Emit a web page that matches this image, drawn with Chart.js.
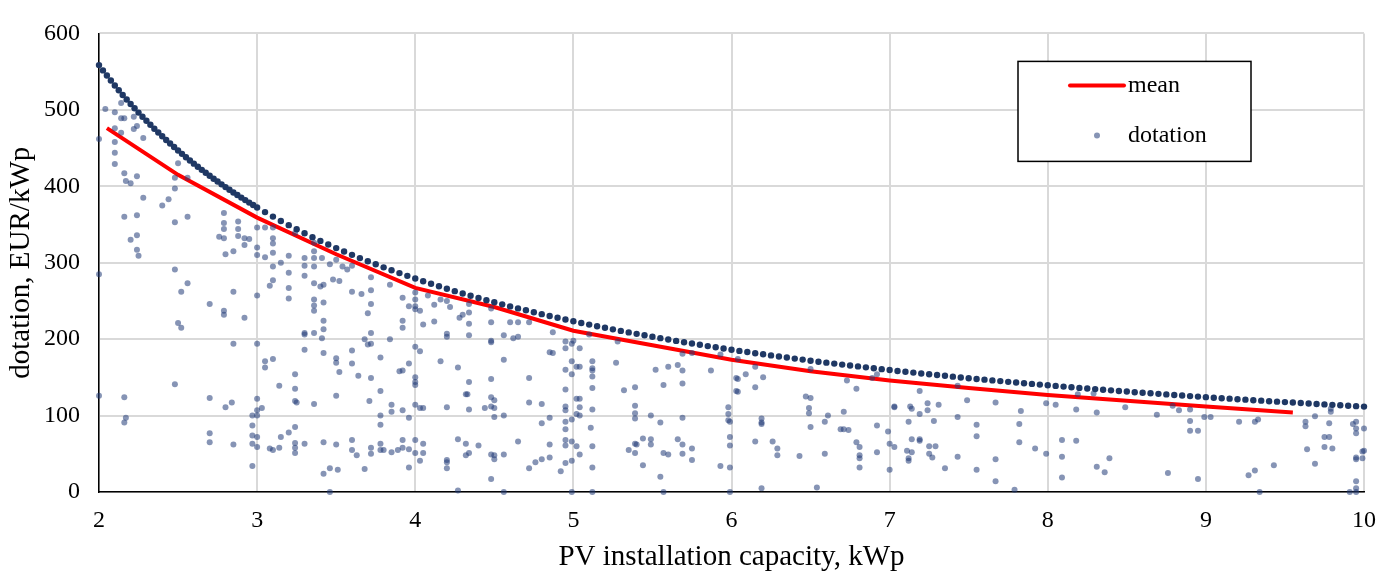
<!DOCTYPE html>
<html>
<head>
<meta charset="utf-8">
<script src="https://cdn.jsdelivr.net/npm/chart.js@4.4.1/dist/chart.umd.min.js"></script>
<style>
  html, body { margin: 0; padding: 0; background: #fff; }
</style>
</head>
<body>
<canvas id="chart" width="1390" height="571"></canvas>
<script>
'use strict';

// Mean dotation line (kWp -> EUR/kWp).
const meanKwp = [2.05, 2.5, 3.0, 3.5, 4.0, 4.5, 5.0, 5.5, 6.0, 6.5, 7.0, 7.5, 8.0, 8.5, 9.0, 9.55];
const meanEur = [476, 415, 359, 311, 267, 242, 211, 192, 173, 158, 146, 136, 127, 119.5, 112, 104];

// Upper edge of the dotation cloud (the maximum dotation per kWp).
const ceiling = [
  [2.00,558.5],[2.025,551.6],[2.05,544.9],[2.075,538.3],[2.10,531.9],[2.125,525.6],[2.15,519.5],[2.175,513.6],
  [2.20,507.7],[2.225,502.0],[2.25,496.4],[2.275,491.0],[2.30,485.7],[2.325,480.4],[2.35,475.3],[2.375,470.3],
  [2.40,465.4],[2.425,460.6],[2.45,455.9],[2.475,451.3],[2.50,446.8],[2.525,442.4],[2.55,438.0],[2.575,433.8],
  [2.60,429.6],[2.625,425.5],[2.65,421.5],[2.675,417.6],[2.70,413.7],[2.725,409.9],[2.75,406.2],[2.775,402.5],
  [2.80,398.9],[2.825,395.4],[2.85,391.9],[2.875,388.5],[2.90,385.2],[2.925,381.9],[2.95,378.6],[2.975,375.5],
  [3.00,372.3],[3.05,366.2],[3.10,360.3],[3.15,354.6],[3.20,349.1],[3.25,343.7],[3.30,338.5],[3.35,333.4],
  [3.40,328.5],[3.45,323.8],[3.50,319.1],[3.55,314.6],[3.60,310.3],[3.65,306.0],[3.70,301.9],[3.75,297.9],
  [3.80,293.9],[3.85,290.1],[3.90,286.4],[3.95,282.8],[4.00,279.3],[4.05,275.8],[4.10,272.4],[4.15,269.2],
  [4.20,266.0],[4.25,262.8],[4.30,259.8],[4.35,256.8],[4.40,253.9],[4.45,251.0],[4.50,248.2],[4.55,245.5],
  [4.60,242.8],[4.65,240.2],[4.70,237.7],[4.75,235.2],[4.80,232.7],[4.85,230.3],[4.90,228.0],[4.95,225.7],
  [5.00,223.4],[5.05,221.2],[5.10,219.0],[5.15,216.9],[5.20,214.8],[5.25,212.8],[5.30,210.8],[5.35,208.8],
  [5.40,206.9],[5.45,205.0],[5.50,203.1],[5.55,201.3],[5.60,199.5],[5.65,197.7],[5.70,196.0],[5.75,194.3],
  [5.80,192.6],[5.85,190.9],[5.90,189.3],[5.95,187.7],[6.00,186.2],[6.05,184.6],[6.10,183.1],[6.15,181.6],
  [6.20,180.2],[6.25,178.7],[6.30,177.3],[6.35,175.9],[6.40,174.5],[6.45,173.2],[6.50,171.8],[6.55,170.5],
  [6.60,169.2],[6.65,168.0],[6.70,166.7],[6.75,165.5],[6.80,164.3],[6.85,163.1],[6.90,161.9],[6.95,160.7],
  [7.00,159.6],[7.05,158.4],[7.10,157.3],[7.15,156.2],[7.20,155.1],[7.25,154.1],[7.30,153.0],[7.35,152.0],
  [7.40,150.9],[7.45,149.9],[7.50,148.9],[7.55,147.9],[7.60,147.0],[7.65,146.0],[7.70,145.1],[7.75,144.1],
  [7.80,143.2],[7.85,142.3],[7.90,141.4],[7.95,140.5],[8.00,139.6],[8.05,138.8],[8.10,137.9],[8.15,137.1],
  [8.20,136.2],[8.25,135.4],[8.30,134.6],[8.35,133.8],[8.40,133.0],[8.45,132.2],[8.50,131.4],[8.55,130.6],
  [8.60,129.9],[8.65,129.1],[8.70,128.4],[8.75,127.7],[8.80,126.9],[8.85,126.2],[8.90,125.5],[8.95,124.8],
  [9.00,124.1],[9.05,123.4],[9.10,122.7],[9.15,122.1],[9.20,121.4],[9.25,120.8],[9.30,120.1],[9.35,119.5],
  [9.40,118.8],[9.45,118.2],[9.50,117.6],[9.55,117.0],[9.60,116.4],[9.65,115.8],[9.70,115.2],[9.75,114.6],
  [9.80,114.0],[9.85,113.4],[9.90,112.8],[9.95,112.3],[10.00,111.7]
];

// Individual installations below the ceiling, grouped by capacity band.
const scatter2to3 = [
  [2.0,462],[2.0,285],[2.0,126],[2.04,501],[2.1,497],[2.1,476],[2.1,458],[2.1,444],[2.1,429],[2.14,509],
  [2.14,489],[2.14,470],[2.16,489],[2.16,417],[2.17,407],[2.2,404],[2.16,360],[2.24,413],[2.24,362],[2.2,330],
  [2.24,336],[2.24,317],[2.25,309],[2.28,463],[2.22,491],[2.22,475],[2.24,479],[2.28,385],[2.4,375],[2.44,383],
  [2.48,411],[2.48,397],[2.5,430],[2.48,353],[2.56,360],[2.56,411],[2.48,291],[2.56,273],[2.52,262],[2.5,221],
  [2.52,215],[2.48,141],[2.16,124],[2.17,97],[2.16,91],[2.7,246],[2.7,123],[2.7,77],[2.7,65],[2.79,365],
  [2.79,352],[2.79,344],[2.76,334],[2.79,332],[2.88,354],[2.88,344],[2.88,335],[2.92,332],[2.95,331],[2.92,323],
  [2.85,315],[2.8,311],[2.85,262],[2.79,237],[2.79,232],[2.92,228],[2.85,194],[2.8,111],[2.84,117],[2.85,62],
  [2.97,100],[2.97,87],[2.97,74],[2.97,63],[2.97,34]
];
const scatter3to4 = [
  [3.0,346],[3.0,320],[3.0,310],[3.0,257],[3.0,194],[3.0,122],[3.0,107],[3.0,100],[3.0,72],[3.0,59],
  [3.03,110],[3.05,346],[3.05,307],[3.05,171],[3.05,163],[3.1,346],[3.1,332],[3.1,325],[3.1,313],[3.1,295],
  [3.1,277],[3.08,270],[3.1,174],[3.08,57],[3.1,55],[3.14,139],[3.14,58],[3.15,72],[3.15,300],[3.2,309],
  [3.2,287],[3.2,267],[3.2,253],[3.2,78],[3.24,339],[3.24,154],[3.24,135],[3.24,119],[3.25,117],[3.24,85],
  [3.24,64],[3.24,58],[3.24,51],[3.3,306],[3.3,296],[3.3,283],[3.3,208],[3.3,206],[3.3,186],[3.3,63],
  [3.36,326],[3.36,315],[3.36,306],[3.36,295],[3.36,273],[3.36,252],[3.36,244],[3.36,237],[3.36,208],[3.36,115],
  [3.4,269],[3.42,271],[3.42,248],[3.42,224],[3.42,213],[3.41,201],[3.42,182],[3.42,65],[3.42,24],[3.46,31],
  [3.46,0],[3.51,29],[3.41,306],[3.46,298],[3.5,304],[3.54,295],[3.48,278],[3.52,276],[3.5,126],[3.5,62],
  [3.5,175],[3.5,169],[3.52,157],[3.57,291],[3.6,296],[3.6,185],[3.6,168],[3.6,68],[3.6,55],[3.6,262],
  [3.63,48],[3.66,259],[3.64,152],[3.68,200],[3.68,30],[3.7,234],[3.7,193],[3.72,194],[3.72,208],[3.72,246],
  [3.72,264],[3.72,281],[3.72,149],[3.71,119],[3.72,58],[3.72,50],[3.78,176],[3.78,132],[3.78,100],[3.78,88],
  [3.78,63],[3.78,55],[3.8,55],[3.84,271],[3.84,200],[3.85,114],[3.85,105],[3.85,52],[3.89,55],[3.9,158],
  [3.92,159],[3.92,224],[3.92,215],[3.92,254],[3.92,107],[3.92,68],[3.92,58],[3.96,32],[3.96,56],[3.96,168],
  [3.96,97],[3.96,243]
];
const scatter4to5 = [
  [4.0,261],[4.0,252],[4.0,243],[4.0,239],[4.0,190],[4.0,150],[4.0,144],[4.0,140],[4.0,114],[4.0,68],
  [4.0,51],[4.03,237],[4.05,219],[4.03,184],[4.05,110],[4.03,110],[4.05,63],[4.05,51],[4.03,41],[4.08,257],
  [4.12,245],[4.12,223],[4.16,171],[4.16,252],[4.2,250],[4.2,207],[4.2,203],[4.2,111],[4.2,42],[4.2,39],
  [4.2,31],[4.22,242],[4.27,163],[4.27,69],[4.27,2],[4.28,228],[4.3,232],[4.32,128],[4.33,128],[4.32,63],
  [4.32,48],[4.34,51],[4.34,108],[4.34,144],[4.34,205],[4.34,220],[4.34,235],[4.34,246],[4.4,61],[4.44,110],
  [4.48,240],[4.48,222],[4.48,198],[4.48,196],[4.48,148],[4.48,124],[4.48,112],[4.48,49],[4.48,17],[4.5,120],
  [4.5,110],[4.5,98],[4.5,48],[4.5,43],[4.56,205],[4.56,173],[4.56,100],[4.56,49],[4.56,0],[4.6,222],
  [4.62,201],[4.65,203],[4.65,222],[4.65,66],[4.72,222],[4.72,149],[4.72,117],[4.72,31],[4.76,39],[4.8,115],
  [4.8,43],[4.8,90],[4.85,183],[4.87,182],[4.85,97],[4.85,62],[4.85,45],[4.87,209],[4.92,27],[4.95,197],
  [4.95,188],[4.95,160],[4.95,134],[4.95,112],[4.95,107],[4.95,92],[4.95,82],[4.95,68],[4.95,61],[4.95,38],
  [4.99,194],[4.99,171],[4.99,154],[4.99,95],[4.99,66],[4.99,41],[4.99,0]
];
const scatter5to6 = [
  [5.0,198],[5.02,164],[5.02,122],[5.02,102],[5.02,60],[5.04,188],[5.04,164],[5.04,122],[5.04,111],[5.04,100],
  [5.04,49],[5.1,206],[5.12,171],[5.12,162],[5.12,159],[5.12,151],[5.12,136],[5.12,108],[5.11,84],[5.12,60],
  [5.12,32],[5.12,0],[5.27,169],[5.28,197],[5.32,133],[5.35,55],[5.39,137],[5.39,113],[5.39,103],[5.39,96],
  [5.39,63],[5.4,62],[5.39,51],[5.44,70],[5.44,35],[5.49,100],[5.49,69],[5.49,62],[5.52,160],[5.55,91],
  [5.55,20],[5.57,140],[5.57,0],[5.57,51],[5.6,49],[5.6,164],[5.66,166],[5.66,69],[5.69,181],[5.69,159],
  [5.69,142],[5.69,97],[5.69,62],[5.69,50],[5.75,182],[5.75,57],[5.75,42],[5.87,159],[5.93,180],[5.93,34],
  [5.98,111],[5.98,102],[5.98,94],[5.99,92],[5.99,72],[5.99,61],[5.99,32],[5.99,0]
];
const scatter6to7 = [
  [6.03,149],[6.03,132],[6.04,174],[6.04,148],[6.04,131],[6.09,154],[6.15,164],[6.15,137],[6.15,66],[6.19,96],
  [6.19,91],[6.19,89],[6.19,5],[6.2,150],[6.26,66],[6.29,57],[6.29,48],[6.43,47],[6.47,125],[6.5,123],
  [6.49,110],[6.49,103],[6.5,85],[6.5,161],[6.54,6],[6.59,92],[6.61,100],[6.59,50],[6.69,82],[6.71,82],
  [6.71,105],[6.74,81],[6.73,146],[6.79,135],[6.79,65],[6.81,59],[6.81,48],[6.81,44],[6.81,32],[6.89,149],
  [6.92,154],[6.92,87],[6.92,52],[6.99,79]
];
const scatter7to8 = [
  [7.0,63],[7.0,29],[7.03,59],[7.03,111],[7.03,112],[7.12,92],[7.13,112],[7.14,109],[7.14,69],[7.19,69],
  [7.19,67],[7.11,54],[7.14,52],[7.12,44],[7.12,41],[7.19,132],[7.19,102],[7.24,116],[7.24,107],[7.25,60],
  [7.25,50],[7.27,45],[7.29,60],[7.28,93],[7.31,114],[7.35,31],[7.43,139],[7.43,98],[7.43,46],[7.49,120],
  [7.55,88],[7.55,73],[7.55,29],[7.67,117],[7.67,43],[7.67,14],[7.79,3],[7.82,89],[7.82,65],[7.83,106],
  [7.92,57],[7.99,116],[7.99,50]
];
const scatter8to10 = [
  [8.05,114],[8.09,68],[8.09,46],[8.09,19],[8.18,67],[8.18,108],[8.19,128],[8.29,129],[8.31,104],[8.31,33],
  [8.36,26],[8.39,44],[8.49,111],[8.69,101],[8.76,25],[8.79,113],[8.83,107],[8.9,108],[8.9,93],[8.9,80],
  [8.95,80],[8.95,17],[8.99,98],[9.03,98],[9.21,92],[9.31,92],[9.33,95],[9.27,22],[9.31,28],[9.43,35],
  [9.34,0],[9.63,92],[9.63,86],[9.64,56],[9.69,99],[9.69,37],[9.75,72],[9.78,72],[9.75,59],[9.8,57],
  [9.78,90],[9.79,105],[9.79,109],[9.93,89],[9.95,92],[9.95,83],[9.95,77],[9.95,45],[9.95,43],[9.95,14],
  [9.95,5],[9.95,0],[9.91,0],[9.99,53],[10.0,54],[9.99,44],[10.0,83]
];

const xTitle = 'PV installation capacity, kWp';
const yTitle = 'dotation, EUR/kWp';

const serif = '"Liberation Serif", "Times New Roman", serif';
const meanColor = '#ff0000';
const dotColor = 'rgba(34, 60, 120, 0.55)';
const ceilingColor = '#1f3864';

function toPoints(pairs) {
  return pairs.map(p => ({x: p[0], y: p[1]}));
}

const scattered = [].concat(scatter2to3, scatter3to4, scatter4to5, scatter5to6,
  scatter6to7, scatter7to8, scatter8to10);

// Legend drawn as a framed box inside the plot, like the original.
const boxLegend = {
  id: 'boxLegend',
  afterDraw(chart) {
    const ctx = chart.ctx;
    const area = chart.chartArea;
    const left = area.right - 346;
    const top = area.top + 28;
    ctx.save();
    ctx.fillStyle = '#fff';
    ctx.fillRect(left, top, 233, 100);
    ctx.strokeStyle = '#000';
    ctx.lineWidth = 1.5;
    ctx.strokeRect(left, top, 233, 100);

    ctx.strokeStyle = meanColor;
    ctx.lineWidth = 4;
    ctx.lineCap = 'round';
    ctx.beginPath();
    ctx.moveTo(left + 52, top + 24);
    ctx.lineTo(left + 106, top + 24);
    ctx.stroke();

    ctx.fillStyle = dotColor;
    ctx.beginPath();
    ctx.arc(left + 79, top + 74, 3, 0, Math.PI * 2);
    ctx.fill();

    ctx.fillStyle = '#000';
    ctx.font = '24px ' + serif;
    ctx.textBaseline = 'middle';
    ctx.fillText(chart.data.datasets[0].label, left + 110, top + 24);
    ctx.fillText(chart.data.datasets[1].label, left + 110, top + 74);
    ctx.restore();
  }
};

const chart = new Chart(document.getElementById('chart'), {
  type: 'scatter',
  data: {
    datasets: [
      {
        type: 'line',
        label: 'mean',
        data: meanKwp.map((x, i) => ({x: x, y: meanEur[i]})),
        borderColor: meanColor,
        backgroundColor: meanColor,
        borderWidth: 4,
        pointRadius: 0,
        tension: 0,
        order: 3
      },
      {
        label: 'dotation',
        data: toPoints(scattered),
        backgroundColor: dotColor,
        borderWidth: 0,
        pointRadius: 3,
        clip: false,
        order: 2
      },
      {
        label: 'dotation ceiling',
        data: toPoints(ceiling),
        backgroundColor: ceilingColor,
        borderWidth: 0,
        pointRadius: 3.2,
        clip: false,
        order: 1
      }
    ]
  },
  options: {
    responsive: false,
    animation: false,
    layout: {padding: {top: 22, right: 23, bottom: 0, left: 0}},
    plugins: {
      legend: {display: false},
      tooltip: {enabled: false}
    },
    scales: {
      x: {
        type: 'linear',
        min: 2,
        max: 10,
        ticks: {stepSize: 1, color: '#000', padding: 14, font: {family: serif, size: 24}},
        grid: {color: '#d9d9d9', lineWidth: 2, drawTicks: false},
        border: {color: '#000', width: 1.5},
        title: {display: true, text: xTitle, color: '#000', font: {family: serif, size: 29}, padding: {top: 0, bottom: -4}},
        afterFit(scale) { scale.height = 79; }
      },
      y: {
        min: 0,
        max: 600,
        ticks: {stepSize: 100, color: '#000', padding: 19, font: {family: serif, size: 24}},
        grid: {color: '#d9d9d9', lineWidth: 2, drawTicks: false},
        border: {color: '#000', width: 1.5},
        title: {display: true, text: yTitle, color: '#000', font: {family: serif, size: 29}, padding: {top: 4, bottom: 0}},
        afterFit(scale) { scale.width = 99; }
      }
    }
  },
  plugins: [boxLegend]
});
</script>
</body>
</html>
